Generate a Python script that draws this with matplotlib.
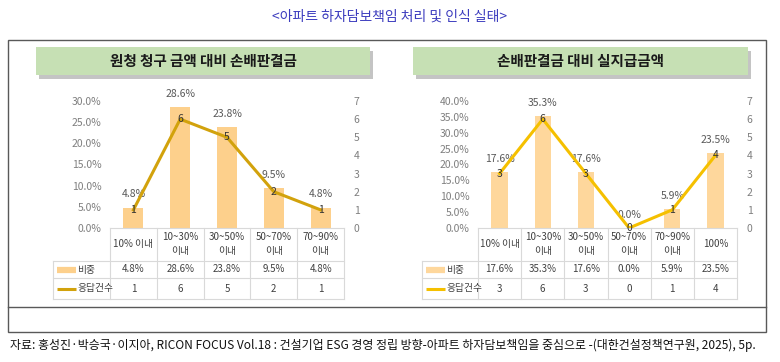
import matplotlib.pyplot as plt
from matplotlib.patches import Rectangle
from matplotlib.ticker import FuncFormatter, MultipleLocator
from matplotlib.transforms import blended_transform_factory

plt.rcParams['font.family'] = ['Noto Sans CJK KR', 'DejaVu Sans']

# data
left_title = '원청 청구 금액 대비 손배판결금'
left_cats = ['10% 이내', '10~30%\n이내', '30~50%\n이내', '50~70%\n이내', '70~90%\n이내']
left_share = [4.8, 28.6, 23.8, 9.5, 4.8]
left_count = [1, 6, 5, 2, 1]

right_title = '손배판결금 대비 실지급금액'
right_cats = ['10% 이내', '10~30%\n이내', '30~50%\n이내', '50~70%\n이내', '70~90%\n이내', '100%']
right_share = [17.6, 35.3, 17.6, 0.0, 5.9, 23.5]
right_count = [3, 6, 3, 0, 1, 4]

row_names = ['비중', '응답건수']

W, H = 780, 362
fig = plt.figure(figsize=(W / 100, H / 100), dpi=100)

# pixel overlay for frames and boxes
bg = fig.add_axes([0, 0, 1, 1])
bg.set_xlim(0, W)
bg.set_ylim(H, 0)
bg.axis('off')


def px_box(x0, y0, x1, y1):
    return [x0 / W, 1 - y1 / H, (x1 - x0) / W, (y1 - y0) / H]


def title_box(x0, y0, x1, y1, text):
    bg.add_patch(Rectangle((x0 + 3, y0 + 4), x1 - x0, y1 - y0, color='#c4c4c4', lw=0))
    bg.add_patch(Rectangle((x0, y0), x1 - x0, y1 - y0, color='#c6e0b4', lw=0))
    bg.text((x0 + x1) / 2, (y0 + y1) / 2, text, ha='center', va='center',
            fontsize=10.5, fontweight='bold', color='#1a1a1a')


def draw_chart(box, cats, share, count, ymax, bar_color, line_color, bar_w, legend_px):
    x0, y0, x1, y1 = box
    wpx, hpx = x1 - x0, y1 - y0
    n = len(cats)
    xs = list(range(n))

    ax = fig.add_axes(px_box(*box))
    ax.patch.set_alpha(0)
    ax.bar(xs, share, width=bar_w, color=bar_color, zorder=2)
    ax.set_xlim(-0.5, n - 0.5)
    ax.set_ylim(0, ymax)
    ax.yaxis.set_major_locator(MultipleLocator(5))
    ax.yaxis.set_major_formatter(FuncFormatter(lambda v, p: f'{v:.1f}%'))
    ax.tick_params(axis='y', length=0, pad=6, labelsize=7.5, labelcolor='#7f7f7f')
    ax.set_xticks([])
    for s in ax.spines.values():
        s.set_visible(False)
    for i, v in enumerate(share):
        ax.annotate(f'{v:.1f}%', (i, v), xytext=(0, 9.5), textcoords='offset points',
                    ha='center', va='center', fontsize=7.5, color='#595959')

    ax2 = ax.twinx()
    ax2.plot(xs, count, color=line_color, lw=2.2, zorder=3)
    ax2.set_ylim(0, 7)
    ax2.set_yticks(range(8))
    ax2.tick_params(axis='y', length=0, pad=7, labelsize=7.5, labelcolor='#7f7f7f')
    for s in ax2.spines.values():
        s.set_visible(False)
    for i, c in enumerate(count):
        ax2.text(i, c, str(c), ha='center', va='center', fontsize=7.5, color='#333333', zorder=4)

    # data table under the plot
    rows = [(y1 - p) / hpx for p in (228, 261, 278, 299)]
    leg = (legend_px - x0) / wpx
    tr = blended_transform_factory(ax.transData, ax.transAxes)
    kw = dict(color='#d9d9d9', lw=0.8, clip_on=False)
    for k in range(n + 1):
        ax.plot([k - 0.5, k - 0.5], [rows[0], rows[3]], transform=tr, **kw)
    ax.plot([0, 1], [rows[0], rows[0]], transform=ax.transAxes, **kw)
    for r in rows[1:]:
        ax.plot([leg, 1], [r, r], transform=ax.transAxes, **kw)
    ax.plot([leg, leg], [rows[1], rows[3]], transform=ax.transAxes, **kw)

    for i, c in enumerate(cats):
        ax.text(i, (rows[0] + rows[1]) / 2, c, transform=tr, ha='center', va='center',
                fontsize=7, color='#404040', linespacing=1.5)
        ax.text(i, (rows[1] + rows[2]) / 2, f'{share[i]:.1f}%', transform=tr,
                ha='center', va='center', fontsize=7, color='#404040')
        ax.text(i, (rows[2] + rows[3]) / 2, str(count[i]), transform=tr,
                ha='center', va='center', fontsize=7, color='#404040')

    swatches = [(bar_color, 4.5), (line_color, 2.2)]
    for (col, lw), name, k in zip(swatches, row_names, (1, 2)):
        ym = (rows[k] + rows[k + 1]) / 2
        ax.plot([leg + 4 / wpx, leg + 23 / wpx], [ym, ym], transform=ax.transAxes,
                color=col, lw=lw, solid_capstyle='butt', clip_on=False)
        ax.text(leg + 24 / wpx, ym, name, transform=ax.transAxes, ha='left', va='center',
                fontsize=7, color='#404040')


# outer frame
bg.add_patch(Rectangle((8, 40), 758, 292, fill=False, ec='#595959', lw=1))
bg.plot([8, 766], [307, 307], color='#595959', lw=1)

bg.text(390, 17, '<아파트 하자담보책임 처리 및 인식 실태>', ha='center', va='center',
        fontsize=10, color='#3c3cbe')

title_box(36, 47, 370, 75, left_title)
title_box(413, 47, 748, 75, right_title)

draw_chart((110, 101, 344, 228), left_cats, left_share, left_count, 30,
           '#fdd08c', '#d2a20c', 0.43, 53)
draw_chart((478, 101, 737, 228), right_cats, right_share, right_count, 40,
           '#fed79c', '#f5c000', 0.38, 422)

bg.text(10, 345, '자료: 홍성진·박승국·이지아, RICON FOCUS Vol.18 : 건설기업 ESG 경영 정립 방향-아파트 '
        '하자담보책임을 중심으로 -(대한건설정책연구원, 2025), 5p.',
        ha='left', va='center', fontsize=8.6, color='#111111')

fig.savefig('out.png', dpi=100)
